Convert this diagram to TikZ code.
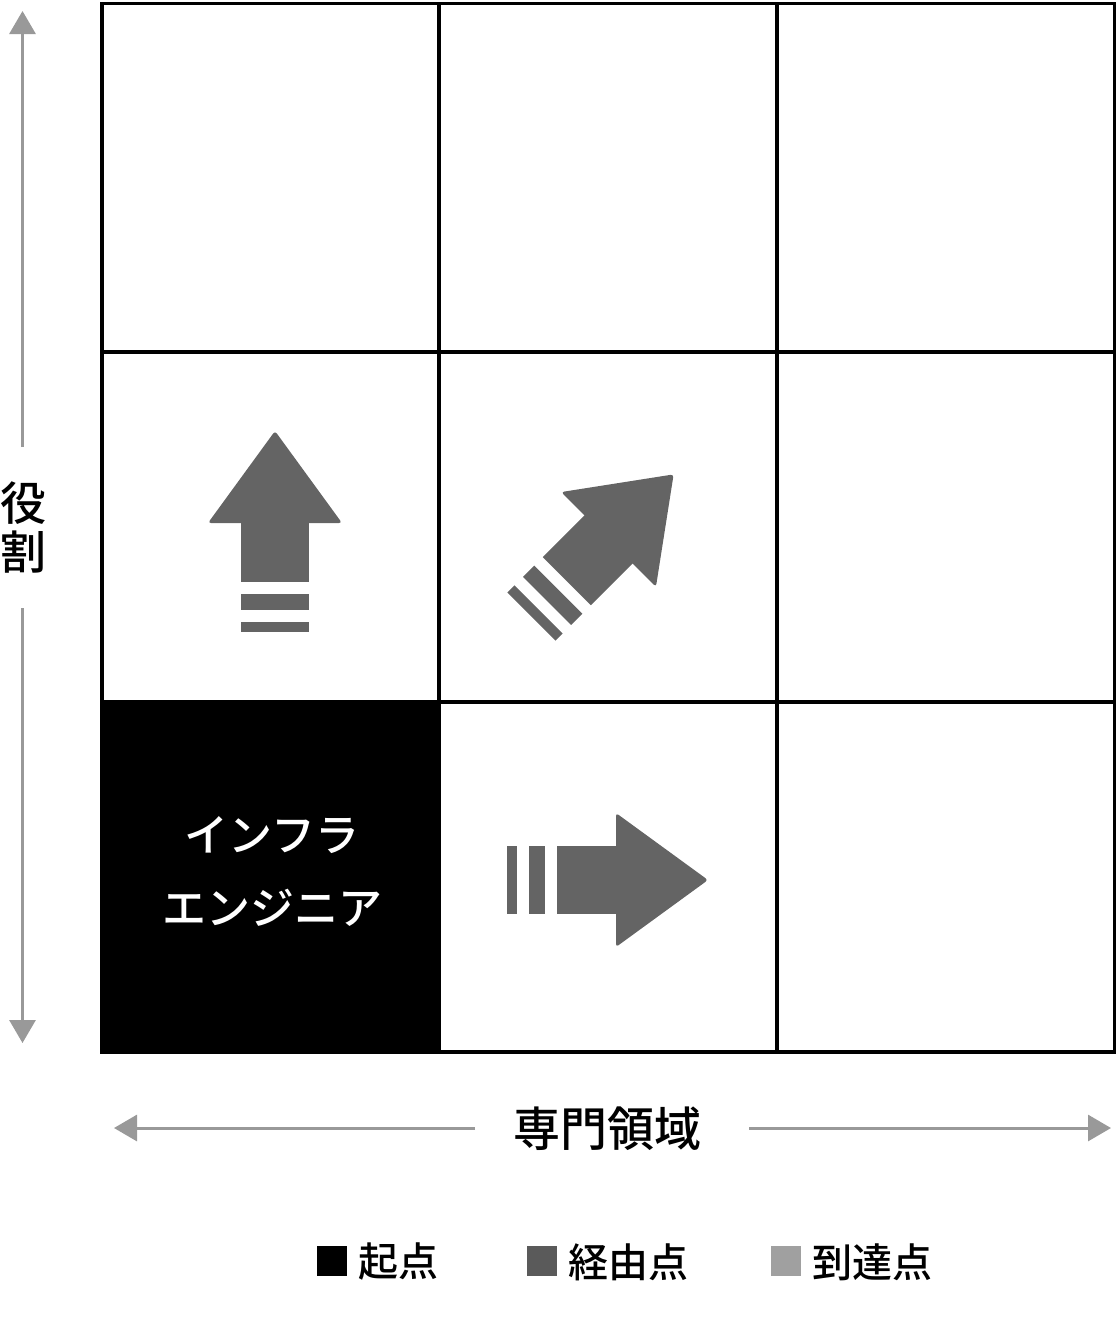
\documentclass[tikz,border=0pt]{standalone}
\usepackage{fontspec}
\IfFontExistsTF{Noto Sans CJK JP Medium}
  {\newfontfamily\jp{Noto Sans CJK JP Medium}}
  {\newfontfamily\jp{Noto Sans CJK JP}[FakeBold=1.5]}
\usetikzlibrary{arrows.meta}
\definecolor{arrowgray}{HTML}{646464}
\definecolor{axisgray}{HTML}{999999}
\definecolor{midgray}{HTML}{5A5A5A}
\definecolor{lightgraytwo}{HTML}{A0A0A0}
\newcommand\fatarrow[2]{%
  \begin{scope}[shift={#1},rotate=#2]
    \fill[arrowgray] (0,-34) rectangle (10,34);
    \fill[arrowgray] (22,-34) rectangle (38,34);
    \fill[arrowgray] (50,-34) rectangle (111,34);
    \fill[arrowgray,rounded corners=3] (109,-67) -- (201,0) -- (109,67) -- cycle;
  \end{scope}}
\begin{document}
\begin{tikzpicture}[x=1pt,y=-1pt,
  gridline/.style={line width=3.2pt,black},
  axisline/.style={line width=3pt,axisgray},
  axistip/.style={-{Triangle[length=23pt,width=26pt]}},
  legsq/.style={minimum width=30pt,minimum height=30pt,inner sep=0pt,draw=none},
  legtext/.style={anchor=west,inner sep=0pt,font=\jp\fontsize{40}{44}\selectfont},
  axislabel/.style={inner sep=0pt,font=\jp\fontsize{47}{50}\selectfont}]
\useasboundingbox (0,0) rectangle (1117,1320);
% start cell
\fill[black] (102,702) rectangle (439,1052);
% grid
\draw[gridline] (102,3.5) rectangle (1114.5,1052);
\draw[gridline] (439,3.5) -- (439,1052);
\draw[gridline] (777,3.5) -- (777,1052);
\draw[gridline] (102,352) -- (1114.5,352);
\draw[gridline] (102,702) -- (1114.5,702);
% start label
\node[inner sep=0pt,align=center,text=white,font=\jp\fontsize{44}{73}\selectfont] (start) at (272,871) {インフラ\\エンジニア};
% arrows
\fatarrow{(275,632)}{90}
\fatarrow{(531.5,616.5)}{45}
\fatarrow{(507,880)}{0}
% vertical axis
\node[axislabel,align=center,font=\jp\fontsize{46}{49}\selectfont] (role) at (23,527) {役\\割};
\coordinate (vtop) at (22.5,11);
\coordinate (vtopend) at (22.5,447);
\coordinate (vbot) at (22.5,1043);
\coordinate (vbotstart) at (22.5,608);
\draw[axisline,axistip] (vtopend) -- (vtop);
\draw[axisline,axistip] (vbotstart) -- (vbot);
% horizontal axis
\node[axislabel] (field) at (607,1129) {専門領域};
\coordinate (hleft) at (114,1128);
\coordinate (hleftend) at (475,1128);
\coordinate (hright) at (1111,1128);
\coordinate (hrightstart) at (749,1128);
\draw[axisline,axistip] (hleftend) -- (hleft);
\draw[axisline,axistip] (hrightstart) -- (hright);
% legend
\node[legsq,fill=black] (sq1) at (332,1261) {};
\node[legtext] (lt1) at (358,1262) {起点};
\node[legsq,fill=midgray] (sq2) at (542,1261) {};
\node[legtext] (lt2) at (568,1262) {経由点};
\node[legsq,fill=lightgraytwo] (sq3) at (786,1261) {};
\node[legtext] (lt3) at (812,1262) {到達点};
\end{tikzpicture}
\end{document}
